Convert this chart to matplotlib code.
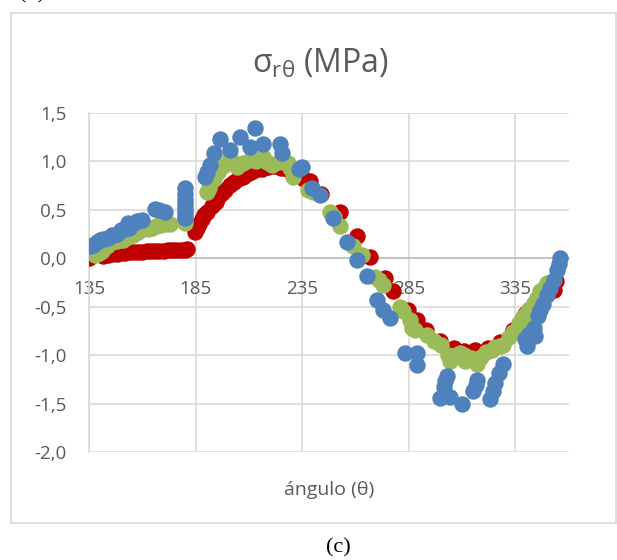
import matplotlib
matplotlib.use('Agg')
import matplotlib.pyplot as plt
from matplotlib.patches import Rectangle
from matplotlib.ticker import FuncFormatter

plt.rcParams['font.family'] = ['Open Sans', 'DejaVu Sans']
plt.rcParams['mathtext.fontset'] = 'custom'
plt.rcParams['mathtext.rm'] = 'Open Sans'
plt.rcParams['mathtext.it'] = 'Open Sans'

# red series
red_x = [135, 141.7, 144, 146, 148, 150, 152, 154, 156, 158, 160, 162, 164, 166,
         168, 170, 172, 174, 176, 178, 180, 181,
         184.5, 185.5, 186.5, 187.8, 189, 190.5, 192.5, 194.5, 196, 197.5, 199,
         201, 203, 205, 207, 209, 211, 213, 216, 219, 222, 225, 228, 231, 233,
         236, 238.7, 244, 252.8, 260.6, 266.9, 273.9, 277.8, 284.8, 288.8, 293,
         299.7, 306, 311, 316, 322, 328, 334, 339.6, 345, 349, 352.9, 354]
red_y = [0.00, 0.02, 0.03, 0.04, 0.045, 0.05, 0.055, 0.06, 0.062, 0.065, 0.068,
         0.07, 0.072, 0.075, 0.077, 0.078, 0.08, 0.082, 0.083, 0.085, 0.087, 0.09,
         0.27, 0.31, 0.35, 0.40, 0.44, 0.48, 0.54, 0.58, 0.64, 0.67, 0.70,
         0.75, 0.79, 0.82, 0.84, 0.87, 0.89, 0.91, 0.92, 0.94, 0.95, 0.93, 0.92,
         0.88, 0.86, 0.82, 0.80, 0.66, 0.48, 0.23, 0.01, -0.20, -0.34, -0.54,
         -0.64, -0.74, -0.85, -0.93, -0.96, -0.95, -0.93, -0.87, -0.74, -0.58,
         -0.46, -0.38, -0.33, -0.24]

# green series
green_x = [137.8, 139.5, 141, 143.5, 145.7, 148, 151, 153.5, 155.8, 158, 160.5,
           162.5, 164.4, 166.5, 168.3, 170.5, 173, 180, 180, 180,
           190.2, 191.5, 193.5, 195.7, 198, 201.2, 204.3, 207, 210.5, 213.5,
           216.8, 218.5, 220.7, 224, 228.5, 229.5, 230.9, 237.9, 240,
           248.1, 250, 252.8, 259, 263, 269.2, 271, 273.1, 280.9, 282.5, 285.6,
           286.4, 288, 293.4, 296.6, 300, 303.6, 304.4, 307, 309, 310.7, 311.4,
           314, 316.9, 319, 321, 324, 325.5, 327.9, 329.4, 331.8, 334, 336.5,
           338, 339.6, 341.5, 343.5, 345, 346.6, 348.3, 349.8]
green_y = [0.03, 0.05, 0.07, 0.12, 0.17, 0.18, 0.19, 0.22, 0.24, 0.27, 0.31,
           0.30, 0.31, 0.33, 0.34, 0.35, 0.35, 0.36, 0.39, 0.42,
           0.68, 0.72, 0.82, 0.89, 0.95, 1.04, 0.94, 0.98, 1.01, 1.00,
           1.04, 0.99, 0.96, 0.99, 0.98, 0.93, 0.84, 0.70, 0.68,
           0.48, 0.42, 0.33, 0.13, 0.03, -0.19, -0.23, -0.28, -0.50, -0.55, -0.64,
           -0.72, -0.74, -0.79, -0.86, -0.90, -1.00, -1.06, -1.00, -0.98, -1.00,
           -1.06, -1.03, -1.09, -1.02, -0.97, -0.95, -0.92, -0.91, -0.90, -0.81,
           -0.76, -0.67, -0.62, -0.59, -0.52, -0.46, -0.41, -0.34, -0.31, -0.26]

# blue series
blue_x = [135.5, 137, 138.6, 140, 141.7, 144, 146, 148, 150, 151.5, 153.5,
          153.9, 156, 157.5, 159.7, 166, 168, 170.7,
          180, 180, 180, 180, 180, 180, 180, 180,
          189.4, 190.5, 191.8, 193.4, 196.5, 201.2, 205.9, 210.5, 213, 216.8,
          224.6, 225.4, 233.5, 234.8, 239.5, 243.4, 249.6, 255.9, 260.6, 265.3,
          270, 273.1, 276.2, 283.3, 288.8, 288.8, 299.7, 301.3, 302.2, 302.9,
          304.4, 309.8, 315.3, 316.4, 316.9, 323.2, 324.5, 325.5, 327.1, 329.4,
          339.6, 340.4, 341.5, 343.5, 344.2, 345.5, 346.6, 348, 349.8, 351.3,
          352.9, 354.4, 355.3, 356]
blue_y = [0.12, 0.14, 0.17, 0.19, 0.20, 0.21, 0.24, 0.25, 0.29, 0.30, 0.36,
          0.31, 0.36, 0.38, 0.39, 0.51, 0.50, 0.48,
          0.41, 0.45, 0.49, 0.53, 0.57, 0.61, 0.66, 0.72,
          0.84, 0.89, 0.96, 1.08, 1.23, 1.12, 1.25, 1.15, 1.34, 1.18,
          1.18, 1.08, 0.92, 0.94, 0.72, 0.65, 0.41, 0.17, -0.02, -0.18,
          -0.43, -0.54, -0.62, -0.98, -0.98, -1.10, -1.44, -1.33, -1.27, -1.22,
          -1.43, -1.50, -1.37, -1.31, -1.26, -1.45, -1.37, -1.29, -1.19, -1.09,
          -0.83, -0.91, -0.78, -0.72, -0.80, -0.60, -0.54, -0.47, -0.38, -0.31,
          -0.23, -0.12, -0.06, 0.00]

x_ticks = [135, 185, 235, 285, 335]
y_ticks = [-2.0, -1.5, -1.0, -0.5, 0.0, 0.5, 1.0, 1.5]

text_gray = '#595959'
grid_gray = '#D9D9D9'

fig = plt.figure(figsize=(6.17, 5.6), dpi=100)
W, H = 617, 560

# chart area border
fig.patches.append(Rectangle((11 / W, 1 - 523 / H), 605 / W, (523 - 13) / H,
                             transform=fig.transFigure, fill=False,
                             edgecolor=grid_gray, linewidth=1.2))

ax = fig.add_axes([89 / W, 1 - 452 / H, (568.7 - 89) / W, (452 - 112.7) / H])

ms = 140
ax.scatter(red_x, red_y, s=ms, color='#C00000', linewidths=0, zorder=3)
ax.scatter(green_x, green_y, s=ms, color='#9BBB59', linewidths=0, zorder=4)
ax.scatter(blue_x, blue_y, s=ms, color='#4F81BD', linewidths=0, zorder=5)

ax.set_xlim(135, 360)
ax.set_ylim(-2.0, 1.5)
ax.set_xticks(x_ticks)
ax.set_yticks(y_ticks)
ax.yaxis.set_major_formatter(FuncFormatter(lambda v, p: f'{v:.1f}'.replace('.', ',')))

ax.grid(True, color=grid_gray, linewidth=1.2, zorder=0)
ax.set_axisbelow(True)
for s in ['top', 'right']:
    ax.spines[s].set_visible(False)
ax.spines['left'].set_color(grid_gray)
ax.spines['left'].set_linewidth(1.2)
ax.spines['bottom'].set_position(('data', 0))
ax.spines['bottom'].set_color('#BFBFBF')
ax.spines['bottom'].set_linewidth(1.2)
ax.spines['bottom'].set_zorder(1)

ax.tick_params(axis='x', length=0, pad=16, labelsize=13.5, labelcolor=text_gray)
ax.tick_params(axis='y', length=0, pad=16, labelsize=13.5, labelcolor=text_gray)
for lab in ax.get_xticklabels():
    lab.set_zorder(6)

fig.text(320 / W, 1 - 73 / H, r'$\mathrm{\sigma_{r\theta}}$ (MPa)', ha='center',
         va='baseline', fontsize=23, color=text_gray)
fig.text(329 / W, 1 - 490 / H, 'ángulo (θ)', ha='center', va='center',
         fontsize=14, color=text_gray)

fig.text(338 / W, 1 - 548 / H, '(c)', ha='center', va='center',
         fontsize=16, family='Liberation Serif', color='black')
fig.text(32 / W, 1 + 2 / H, '(b)', ha='center', va='baseline',
         fontsize=16, family='Liberation Serif', color='black')

fig.savefig('out.png', dpi=100)
